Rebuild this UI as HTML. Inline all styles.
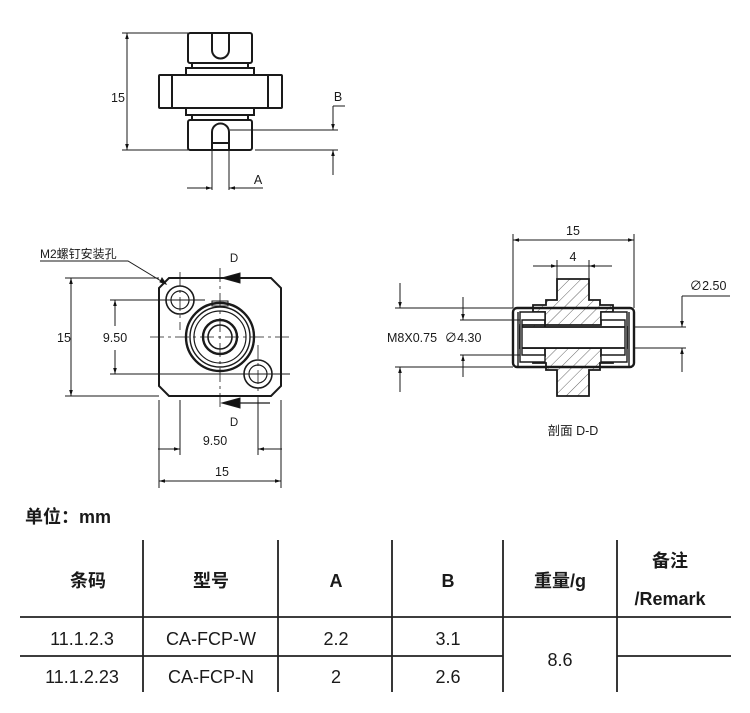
<!DOCTYPE html>
<html><head><meta charset="utf-8"><style>
body{margin:0;background:#fff;width:750px;height:713px;overflow:hidden}
svg{position:absolute;left:0;top:0}
text{font-family:"Liberation Sans","Noto Sans CJK SC",sans-serif;fill:#1a1a1a}
.b{font-weight:bold}
</style></head><body>
<svg width="750" height="713" viewBox="0 0 750 713">
<defs>
<marker id="a" viewBox="0 0 10 10" refX="10" refY="5" markerWidth="8" markerHeight="6" orient="auto-start-reverse"><path d="M0,2L10,5L0,8z" fill="#111"/></marker>
<pattern id="h" width="8" height="8" patternUnits="userSpaceOnUse" patternTransform="rotate(45)"><line x1="0" y1="0" x2="0" y2="8" stroke="#555" stroke-width="0.9"/></pattern>
</defs>
<g stroke="#1a1a1a" fill="none" stroke-width="1">
<!-- top view -->
<g stroke-width="2">
<rect x="188" y="33" width="64" height="30" rx="2"/>
<rect x="192" y="63" width="56" height="5"/>
<rect x="186" y="68" width="68" height="7"/>
<rect x="159" y="75" width="123" height="33" rx="1"/>
<line x1="172" y1="75" x2="172" y2="108"/><line x1="268" y1="75" x2="268" y2="108"/>
<rect x="186" y="108" width="68" height="7"/>
<rect x="192" y="115" width="56" height="5"/>
<rect x="188" y="120" width="64" height="30" rx="2"/>
<path d="M212,33V50A8.5,8.5 0 0 0 229,50V33"/>
<path d="M212,150V132A8.5,8.5 0 0 1 229,132V150M212,143H229"/>
</g>
<line x1="122" y1="33" x2="188" y2="33"/><line x1="122" y1="150" x2="188" y2="150"/>
<line x1="127" y1="33" x2="127" y2="150" marker-start="url(#a)" marker-end="url(#a)"/>
<line x1="230" y1="130" x2="338" y2="130"/><line x1="255" y1="150" x2="338" y2="150"/>
<line x1="333" y1="106" x2="345" y2="106"/>
<line x1="333" y1="106" x2="333" y2="130" marker-end="url(#a)"/>
<line x1="333" y1="175" x2="333" y2="150" marker-end="url(#a)"/>
<line x1="212" y1="150" x2="212" y2="190"/><line x1="229" y1="150" x2="229" y2="190"/>
<line x1="187" y1="188" x2="212" y2="188" marker-end="url(#a)"/>
<line x1="263" y1="188" x2="229" y2="188" marker-end="url(#a)"/>
<!-- front view -->
<path d="M169,278H271L281,288V386L271,396H169L159,386V288Z" stroke-width="2"/>
<circle cx="180" cy="300" r="14" stroke-width="1.6"/><circle cx="180" cy="300" r="9" stroke-width="1.2"/>
<circle cx="258" cy="374" r="14" stroke-width="1.6"/><circle cx="258" cy="374" r="9" stroke-width="1.2"/>
<circle cx="220" cy="337" r="34" stroke-width="2.4"/><circle cx="220" cy="337" r="30" stroke-width="1.4"/>
<circle cx="220" cy="337" r="26" stroke-width="1.2"/><circle cx="220" cy="337" r="17" stroke-width="2.4"/><circle cx="220" cy="337" r="12" stroke-width="1.6"/>
<rect x="212" y="301" width="16" height="5"/>
<g stroke-dasharray="14,4,3,4" stroke-width="0.8">
<line x1="220" y1="268" x2="220" y2="410"/><line x1="150" y1="337" x2="292" y2="337"/>
<line x1="180" y1="272" x2="180" y2="330"/><line x1="258" y1="345" x2="258" y2="410"/>
</g>
<line x1="110" y1="300" x2="205" y2="300"/><line x1="110" y1="374" x2="290" y2="374"/>
<line x1="65" y1="278" x2="159" y2="278"/><line x1="65" y1="396" x2="159" y2="396"/>
<line x1="71" y1="278" x2="71" y2="396" marker-start="url(#a)" marker-end="url(#a)"/>
<line x1="115" y1="300" x2="115" y2="326" marker-start="url(#a)"/><line x1="115" y1="350" x2="115" y2="374" marker-end="url(#a)"/>
<line x1="180" y1="400" x2="180" y2="455"/><line x1="258" y1="400" x2="258" y2="455"/>
<line x1="159" y1="400" x2="159" y2="488"/><line x1="281" y1="400" x2="281" y2="488"/>
<line x1="158" y1="449" x2="180" y2="449" marker-end="url(#a)"/><line x1="282" y1="449" x2="258" y2="449" marker-end="url(#a)"/>
<line x1="159" y1="481" x2="281" y2="481" marker-start="url(#a)" marker-end="url(#a)"/>
<line x1="238" y1="278" x2="270" y2="278" stroke-width="1.2"/>
<path d="M222,278L240,273V283Z" fill="#111"/>
<line x1="238" y1="403" x2="270" y2="403" stroke-width="1.2"/>
<path d="M222,403L240,398V408Z" fill="#111"/>
<path d="M40,261H128L166,284" stroke-width="1"/>
<path d="M166,284l-6,-2l2,-4z" fill="#111"/>
<!-- section -->
<line x1="513" y1="234" x2="513" y2="308"/><line x1="634" y1="234" x2="634" y2="308"/>
<line x1="513" y1="240" x2="634" y2="240" marker-start="url(#a)" marker-end="url(#a)"/>
<line x1="557" y1="260" x2="557" y2="279"/><line x1="589" y1="260" x2="589" y2="279"/>
<line x1="533" y1="266" x2="557" y2="266" marker-end="url(#a)"/><line x1="612" y1="266" x2="589" y2="266" marker-end="url(#a)"/>
<line x1="557" y1="266" x2="589" y2="266"/>
<path d="M557,279H589V300H600V305H613V312H601V325H520V348H601V356H613V363H600V370H589V396H557V370H546V363H533V356H545V348V325H545V312H533V305H546V300H557Z" fill="url(#h)" stroke-width="1.8"/>
<rect x="513" y="308" width="121" height="59" rx="4" stroke-width="2.4"/>
<path d="M518,367V312M629,312V367" stroke-width="1.4"/>
<rect x="520" y="327" width="107" height="21" fill="#fff" stroke-width="1.8"/>
<path d="M520,312H545V320H522V355H545V362H520ZM627,312H601V320H625V355H601V362H627Z" fill="#fff" stroke-width="1.4"/>
<line x1="395" y1="308" x2="513" y2="308"/><line x1="395" y1="367" x2="513" y2="367"/>
<line x1="400" y1="283" x2="400" y2="308" marker-end="url(#a)"/><line x1="400" y1="392" x2="400" y2="367" marker-end="url(#a)"/>
<line x1="460" y1="320" x2="520" y2="320"/><line x1="460" y1="355" x2="520" y2="355"/>
<line x1="463" y1="297" x2="463" y2="320" marker-end="url(#a)"/><line x1="463" y1="377" x2="463" y2="355" marker-end="url(#a)"/>
<line x1="634" y1="327" x2="686" y2="327"/><line x1="634" y1="348" x2="686" y2="348"/>
<line x1="682" y1="296" x2="730" y2="296"/>
<line x1="682" y1="296" x2="682" y2="327" marker-end="url(#a)"/><line x1="682" y1="372" x2="682" y2="348" marker-end="url(#a)"/>
<!-- table -->
<g stroke="#222" stroke-width="1.8">
<line x1="143" y1="540" x2="143" y2="692"/><line x1="278" y1="540" x2="278" y2="692"/>
<line x1="392" y1="540" x2="392" y2="692"/><line x1="503" y1="540" x2="503" y2="692"/>
<line x1="617" y1="540" x2="617" y2="692"/>
<line x1="20" y1="617" x2="731" y2="617"/>
<line x1="20" y1="656" x2="503" y2="656"/><line x1="617" y1="656" x2="731" y2="656"/>
</g>
</g>
<g font-size="12.5">
<text x="118" y="102" text-anchor="middle">15</text>
<text x="338" y="101" text-anchor="middle">B</text>
<text x="258" y="184" text-anchor="middle">A</text>
<text x="40" y="258" font-size="12">M2螺钉安装孔</text>
<text x="234" y="262" text-anchor="middle" font-size="11.5">D</text>
<text x="234" y="426" text-anchor="middle" font-size="11.5">D</text>
<text x="64" y="342" text-anchor="middle">15</text>
<text x="115" y="342" text-anchor="middle">9.50</text>
<text x="215" y="445" text-anchor="middle">9.50</text>
<text x="222" y="476" text-anchor="middle">15</text>
<text x="573" y="235" text-anchor="middle">15</text>
<text x="573" y="261" text-anchor="middle">4</text>
<text x="708" y="290" text-anchor="middle">∅2.50</text>
<text x="387" y="342">M8X0.75</text>
<text x="463" y="342" text-anchor="middle">∅4.30</text>
<text x="573" y="435" text-anchor="middle">剖面 D-D</text>
</g>
<g font-size="18">
<text x="25" y="523" class="b">单位：mm</text>
<text x="88" y="587" text-anchor="middle" class="b">条码</text>
<text x="211" y="587" text-anchor="middle" class="b">型号</text>
<text x="336" y="587" text-anchor="middle" class="b">A</text>
<text x="448" y="587" text-anchor="middle" class="b">B</text>
<text x="560" y="587" text-anchor="middle" class="b">重量/g</text>
<text x="670" y="567" text-anchor="middle" class="b">备注</text>
<text x="670" y="605" text-anchor="middle" class="b">/Remark</text>
<text x="82" y="645" text-anchor="middle">11.1.2.3</text>
<text x="211" y="645" text-anchor="middle">CA-FCP-W</text>
<text x="336" y="645" text-anchor="middle">2.2</text>
<text x="448" y="645" text-anchor="middle">3.1</text>
<text x="560" y="666" text-anchor="middle">8.6</text>
<text x="82" y="683" text-anchor="middle">11.1.2.23</text>
<text x="211" y="683" text-anchor="middle">CA-FCP-N</text>
<text x="336" y="683" text-anchor="middle">2</text>
<text x="448" y="683" text-anchor="middle">2.6</text>
</g>
</svg>
</body></html>
